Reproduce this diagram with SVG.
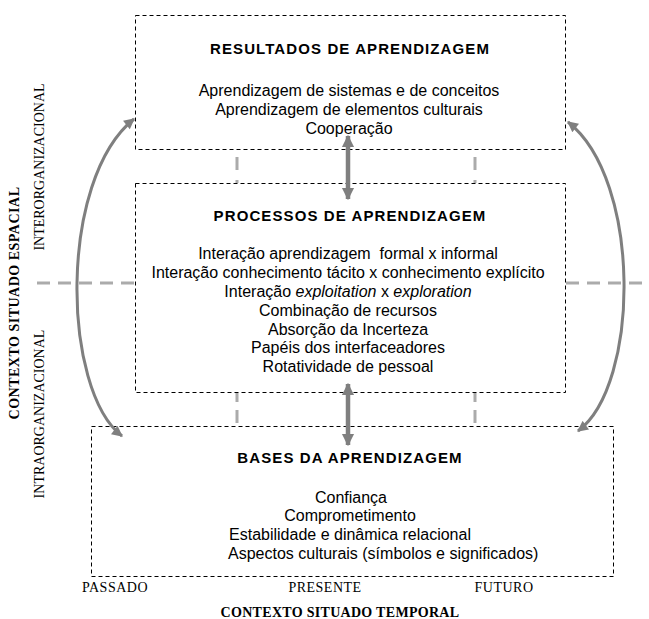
<svg xmlns="http://www.w3.org/2000/svg" width="649" height="619" viewBox="0 0 649 619">
<defs>
<style>
.box{fill:#fff;stroke:#000;stroke-width:1;stroke-dasharray:4,3}
.gd{stroke:#ababab;stroke-width:3;fill:none}
.arr{stroke:#7f7f7f;stroke-width:3;fill:none;marker-start:url(#ah);marker-end:url(#ah)}
.dbl{stroke:#7f7f7f;stroke-width:4.5;fill:none;marker-start:url(#ah2);marker-end:url(#ah2)}
.t{font-family:"Liberation Sans",Arial,sans-serif;font-size:16px;fill:#000;text-anchor:middle}
.l{text-anchor:start}
.h{font-family:"Liberation Sans",Arial,sans-serif;font-size:15px;font-weight:bold;letter-spacing:1.1px;fill:#000;text-anchor:middle}
.s{font-family:"Liberation Serif","Times New Roman",serif;font-size:14px;fill:#000;text-anchor:middle}
.sp{letter-spacing:0.5px}
.sb{font-family:"Liberation Serif","Times New Roman",serif;font-size:14px;font-weight:bold;fill:#000;text-anchor:middle}
</style>
<marker id="ah" viewBox="0 0 10 10" refX="9" refY="5" markerWidth="4" markerHeight="3.6" orient="auto-start-reverse" markerUnits="strokeWidth">
<path d="M0,0 L10,5 L0,10 z" fill="#7f7f7f"/>
</marker>
<marker id="ah2" viewBox="0 0 10 10" refX="9" refY="5" markerWidth="2.7" markerHeight="2.9" orient="auto-start-reverse" markerUnits="strokeWidth">
<path d="M0,0 L10,5 L0,10 z" fill="#7f7f7f"/>
</marker>
</defs>
<rect width="649" height="619" fill="#fff"/>

<g id="connectors">
<line class="gd" x1="37" y1="283" x2="135" y2="283" stroke-dasharray="13,8"/>
<line class="gd" x1="566" y1="283" x2="649" y2="283" stroke-dasharray="13,8"/>
<line class="gd" x1="237" y1="150" x2="237" y2="183" stroke-dasharray="0,7,13,10,13,10"/>
<line class="gd" x1="475" y1="150" x2="475" y2="183" stroke-dasharray="0,7,13,10,13,10"/>
<line class="gd" x1="237" y1="393" x2="237" y2="426" stroke-dasharray="9,8,13,10"/>
<line class="gd" x1="475" y1="393" x2="475" y2="426" stroke-dasharray="9,8,13,10"/>
</g>

<g id="resultados">
<rect class="box" x="135.5" y="15.5" width="430" height="134"/>
<text class="h" x="350" y="54">RESULTADOS DE APRENDIZAGEM</text>
<text class="t" x="349" y="96">Aprendizagem de sistemas e de conceitos</text>
<text class="t" x="349" y="115">Aprendizagem de elementos culturais</text>
<text class="t" x="349" y="134">Cooperação</text>
</g>

<g id="processos">
<rect class="box" x="135.5" y="183.5" width="430" height="209"/>
<text class="h" x="350" y="221">PROCESSOS DE APRENDIZAGEM</text>
<text class="t" x="348" y="259" style="white-space:pre">Interação aprendizagem  formal x informal</text>
<text class="t" x="348" y="278">Interação conhecimento tácito x conhecimento explícito</text>
<text class="t" x="348" y="297">Interação <tspan font-style="italic">exploitation</tspan> x <tspan font-style="italic">exploration</tspan></text>
<text class="t" x="348" y="316">Combinação de recursos</text>
<text class="t" x="348" y="335">Absorção da Incerteza</text>
<text class="t" x="348" y="353">Papéis dos interfaceadores</text>
<text class="t" x="348" y="372">Rotatividade de pessoal</text>
</g>

<g id="bases">
<rect class="box" x="91.5" y="426.5" width="522" height="150"/>
<text class="h" x="350" y="463">BASES DA APRENDIZAGEM</text>
<text class="t" x="351" y="503">Confiança</text>
<text class="t" x="350" y="521">Comprometimento</text>
<text class="t" x="350" y="540">Estabilidade e dinâmica relacional</text>
<text class="t l" x="228" y="559">Aspectos culturais (símbolos e significados)</text>
</g>

<g id="arrows">
<line class="dbl" x1="348" y1="136" x2="348" y2="199"/>
<line class="dbl" x1="348" y1="384" x2="348" y2="445"/>
<path class="arr" d="M122,436 C62,390 58,180 134,119"/>
<path class="arr" d="M578,431 C640,385 642,180 568,122"/>
</g>

<g id="labels">
<text class="sb sp" transform="translate(19,303) rotate(-90)">CONTEXTO SITUADO ESPACIAL</text>
<text class="s" transform="translate(44,167) rotate(-90)">INTERORGANIZACIONAL</text>
<text class="s" transform="translate(44,414) rotate(-90)">INTRAORGANIZACIONAL</text>
<text class="s sp" x="115" y="592">PASSADO</text>
<text class="s sp" x="325" y="592">PRESENTE</text>
<text class="s sp" x="504" y="592">FUTURO</text>
<text class="sb" x="340" y="617" letter-spacing="0.3">CONTEXTO SITUADO TEMPORAL</text>
</g>
</svg>
